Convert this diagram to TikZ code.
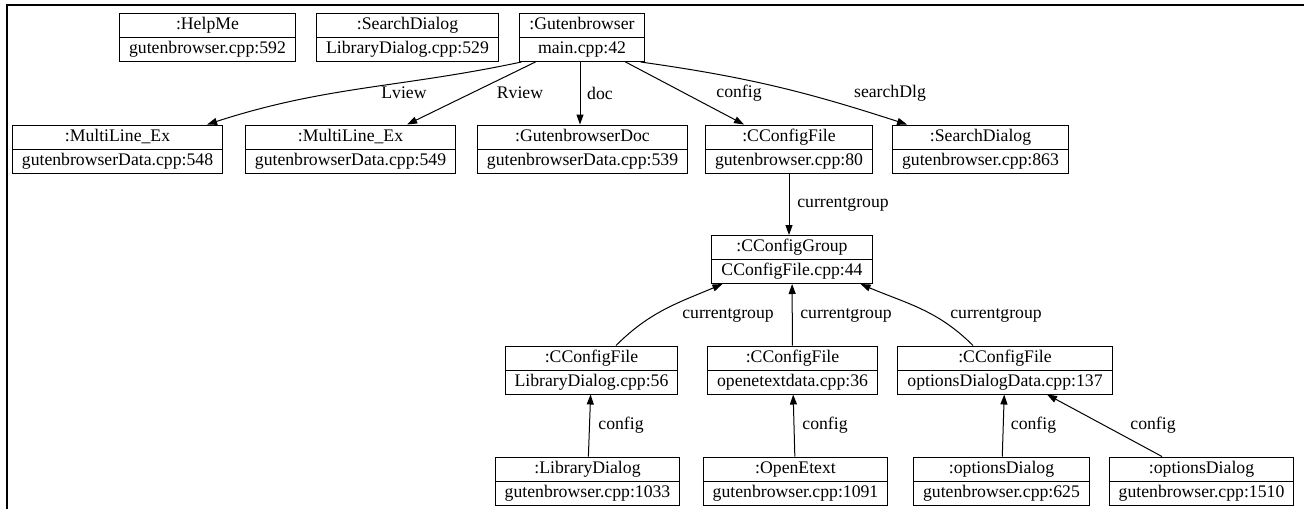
\documentclass[tikz,border=0pt]{standalone}
\usepackage{fontspec}
\setmainfont{Liberation Serif}
\usetikzlibrary{shapes.multipart,arrows.meta}
\newcommand{\objfont}{\fontsize{17.7}{21}\selectfont}
\newcommand{\objtext}[2]{\strut#1\nodepart{two}\strut#2}

\begin{document}
\begin{tikzpicture}[x=1pt,y=1pt,
    obj/.style={rectangle split, rectangle split parts=2, draw, line width=1pt,
      inner xsep=9.5pt, inner ysep=1pt, font=\objfont},
    link/.style={line width=1pt, -{Triangle[length=10pt,width=7pt]}},
    lbl/.style={font=\objfont, inner sep=0pt}]
    \useasboundingbox (0,0) rectangle (1304,-509);
    % frame
    \draw[line width=2pt] (7,-509) -- (7,-5) -- (1304,-5);
    % objects
    \node[obj] (helpme) at (207.5,-37.5) {\objtext{:HelpMe}{gutenbrowser.cpp:592}};
    \node[obj] (srchtop) at (407.5,-37.5) {\objtext{:SearchDialog}{LibraryDialog.cpp:529}};
    \node[obj] (gb) at (582,-37.5) {\objtext{:Gutenbrowser}{main.cpp:42}};
    \node[obj] (mlone) at (117.5,-149) {\objtext{:MultiLine\_Ex}{gutenbrowserData.cpp:548}};
    \node[obj] (mltwo) at (350.5,-149) {\objtext{:MultiLine\_Ex}{gutenbrowserData.cpp:549}};
    \node[obj] (gbdoc) at (582.5,-149) {\objtext{:GutenbrowserDoc}{gutenbrowserData.cpp:539}};
    \node[obj] (cfg) at (789,-149) {\objtext{:CConfigFile}{gutenbrowser.cpp:80}};
    \node[obj] (sdlg) at (980.5,-149) {\objtext{:SearchDialog}{gutenbrowser.cpp:863}};
    \node[obj] (grp) at (792,-259.5) {\objtext{:CConfigGroup}{CConfigFile.cpp:44}};
    \node[obj] (cfglib) at (591.5,-370) {\objtext{:CConfigFile}{LibraryDialog.cpp:56}};
    \node[obj] (cfgote) at (792.5,-370) {\objtext{:CConfigFile}{openetextdata.cpp:36}};
    \node[obj] (cfgopt) at (1005,-370) {\objtext{:CConfigFile}{optionsDialogData.cpp:137}};
    \node[obj] (libdlg) at (587.5,-481) {\objtext{:LibraryDialog}{gutenbrowser.cpp:1033}};
    \node[obj] (openet) at (795.5,-481) {\objtext{:OpenEtext}{gutenbrowser.cpp:1091}};
    \node[obj] (optone) at (1001.5,-481) {\objtext{:optionsDialog}{gutenbrowser.cpp:625}};
    \node[obj] (opttwo) at (1201.5,-481) {\objtext{:optionsDialog}{gutenbrowser.cpp:1510}};
    % links
    \draw[link] ([xshift=2pt]gb.south west) to[out=192,in=18] ([xshift=-16pt]mlone.north east)
      node[lbl] at (404,-93) {Lview};
    \draw[link] ([xshift=16pt]gb.south west) -- ([xshift=-49pt]mltwo.north east)
      node[lbl] at (520,-93) {Rview};
    \draw[link] ([xshift=-2pt]gb.south) -- ([xshift=-2.5pt]gbdoc.north)
      node[lbl] at (600,-93) {doc};
    \draw[link] ([xshift=-19pt]gb.south east) -- ([xshift=-45pt]cfg.north)
      node[lbl] at (739,-93) {config};
    \draw[link] ([xshift=-4pt]gb.south east) to[out=-8,in=162] ([xshift=15pt]sdlg.north west)
      node[lbl] at (890,-93) {searchDlg};
    \draw[link] (cfg.south) -- (cfg.south |- grp.north)
      node[lbl] at (843,-204) {currentgroup};
    \draw[link] ([xshift=24.5pt]cfglib.north) to[out=45,in=203] ([xshift=11pt]grp.south west)
      node[lbl] at (728,-315) {currentgroup};
    \draw[link] (cfgote) -- (grp)
      node[lbl] at (846,-315) {currentgroup};
    \draw[link] ([xshift=-32pt]cfgopt.north) to[out=135,in=-23] ([xshift=-12pt]grp.south east)
      node[lbl] at (996,-315) {currentgroup};
    \draw[link] (libdlg) -- (cfglib)
      node[lbl] at (621,-425) {config};
    \draw[link] (openet) -- (cfgote)
      node[lbl] at (825,-425) {config};
    \draw[link] (optone) -- (cfgopt)
      node[lbl] at (1033.5,-425) {config};
    \draw[link] ([xshift=-39.5pt]opttwo.north) -- ([xshift=42pt]cfgopt.south)
      node[lbl] at (1153,-425) {config};
\end{tikzpicture}
\end{document}
